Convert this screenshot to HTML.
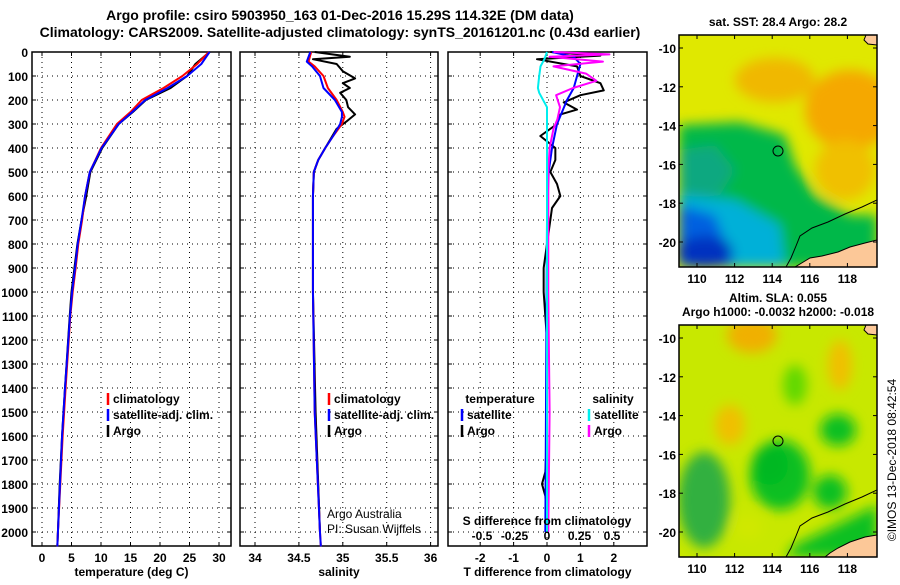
<!DOCTYPE html>
<html><head><meta charset="utf-8">
<style>
body{margin:0;background:#fff;}
svg text{font-family:"Liberation Sans",Arial,sans-serif;}
.b{font-weight:bold;}
</style></head>
<body>
<svg id="fig" width="900" height="580" viewBox="0 0 900 580" xmlns="http://www.w3.org/2000/svg">
<defs>
<filter id="bl" x="-20%" y="-20%" width="140%" height="140%"><feGaussianBlur stdDeviation="6"/></filter>
<clipPath id="c1"><rect x="679" y="35" width="198" height="232"/></clipPath>
<clipPath id="c2"><rect x="679" y="325" width="198" height="232"/></clipPath>
</defs>
<text x="340" y="20" text-anchor="middle" class="b" font-size="14">Argo profile: csiro 5903950_163 01-Dec-2016 15.29S 114.32E (DM data)</text>
<text x="340" y="37" text-anchor="middle" class="b" font-size="14">Climatology: CARS2009. Satellite-adjusted climatology: synTS_20161201.nc (0.43d earlier)</text>

<g id="maps">
<text x="778" y="26" text-anchor="middle" class="b" font-size="12">sat. SST: 28.4 Argo: 28.2</text>
<g clip-path="url(#c1)">
<rect x="679" y="35" width="198" height="232" fill="#e0e800"/>
<g filter="url(#bl)">
<ellipse cx="850" cy="110" rx="45" ry="40" fill="#f5a800"/>
<ellipse cx="775" cy="80" rx="40" ry="22" fill="#f0b800"/>
<ellipse cx="845" cy="170" rx="30" ry="30" fill="#f0c000"/>
<polygon points="679,125 740,122 785,135 795,165 815,195 850,215 877,215 877,267 679,267" fill="#00b848"/>
<polygon points="679,150 715,145 735,170 720,195 679,200" fill="#10a880"/>
<polygon points="679,195 735,200 780,225 785,267 679,267" fill="#00b0d8"/>
<polygon points="679,205 715,215 735,267 679,267" fill="#0060e0"/>
<ellipse cx="705" cy="252" rx="28" ry="16" fill="#0030c0"/>
</g>
<polygon points="877,240 865,243 850,247 838,252 822,256 810,258 800,264 795,267 877,267" fill="#fcc898" stroke="#000" stroke-width="1"/>
<polygon points="866,35 877,35 877,45 868,44 864,40" fill="#fcc898" stroke="#000" stroke-width="1"/>
<polyline points="877,200 862,207 845,214 828,222 812,228 800,236 796,246 791,258 786,267" fill="none" stroke="#000" stroke-width="1"/>
<circle cx="778" cy="151" r="5" fill="none" stroke="#000" stroke-width="1"/>
</g>
<rect x="679" y="35" width="198" height="232" fill="none" stroke="#000" stroke-width="1.5"/>

<text x="778" y="302" text-anchor="middle" class="b" font-size="12">Altim. SLA: 0.055</text>
<text x="778" y="316" text-anchor="middle" class="b" font-size="12">Argo h1000: -0.0032 h2000: -0.018</text>
<g clip-path="url(#c2)">
<rect x="679" y="325" width="198" height="232" fill="#c8e800"/>
<g filter="url(#bl)">
<ellipse cx="752" cy="335" rx="25" ry="18" fill="#f0b000"/>
<ellipse cx="840" cy="365" rx="12" ry="25" fill="#f0c000"/>
<ellipse cx="730" cy="425" rx="15" ry="20" fill="#f0c000"/>
<ellipse cx="795" cy="385" rx="12" ry="20" fill="#60d800"/>
<ellipse cx="704" cy="500" rx="26" ry="48" fill="#30b040"/>
<ellipse cx="780" cy="475" rx="30" ry="35" fill="#10c020"/>
<ellipse cx="770" cy="465" rx="18" ry="20" fill="#00b820"/>
<ellipse cx="838" cy="430" rx="18" ry="16" fill="#10c020"/>
<ellipse cx="830" cy="492" rx="17" ry="17" fill="#10c020"/>
<ellipse cx="748" cy="527" rx="14" ry="12" fill="#d0e800"/>
<polygon points="795,545 877,505 877,557 785,557" fill="#10c020"/>
</g>
<polygon points="877,535 865,537 850,542 838,548 830,553 825,557 877,557" fill="#fcc898" stroke="#000" stroke-width="1"/>
<polygon points="866,325 877,325 877,335 868,334 864,330" fill="#fcc898" stroke="#000" stroke-width="1"/>
<polyline points="877,490 862,497 845,504 828,512 812,518 800,526 796,536 791,548 786,557" fill="none" stroke="#000" stroke-width="1"/>
<circle cx="778" cy="441" r="5" fill="none" stroke="#000" stroke-width="1"/>
</g>
<rect x="679" y="325" width="198" height="232" fill="none" stroke="#000" stroke-width="1.5"/>
<text transform="translate(896,460) rotate(-90)" text-anchor="middle" font-size="12">©IMOS 13-Dec-2018 08:42:54</text>
</g>
<g id="plots"></g>
</svg>
<script>
// ---- data ----
const depthTicks=[0,100,200,300,400,500,600,700,800,900,1000,1100,1200,1300,1400,1500,1600,1700,1800,1900,2000];
const tempTicks=[0,5,10,15,20,25,30];
const salTicks=[34,34.5,35,35.5,36];
const salTickLabels=["34","34.5","35","35.5","36"];
const tdTicks=[-2,-1,0,1,2];
const sdTicks=[-0.5,-0.25,0,0.25,0.5];
const sdTickLabels=["-0.5","-0.25","0","0.25","0.5"];
const latTicks=[-10,-12,-14,-16,-18,-20];
const lonTicks=[110,112,114,116,118];

const tDepth=[0,50,100,150,200,250,300,400,500,600,700,800,900,1000,1100,1400,1600,1800,2000,2060];
const tClim=[28.3,26.3,23.8,20.6,16.9,15.0,12.7,10.0,8.1,7.3,6.8,6.15,5.7,5.2,4.8,4.0,3.5,3.1,2.7,2.6];
const tSat=[28.4,27.0,24.6,21.3,17.5,15.3,13.0,10.1,8.1,7.3,6.7,6.05,5.6,5.1,4.75,3.9,3.4,3.05,2.7,2.6];
const tArgo=[28.4,26.0,24.6,21.8,17.6,15.4,13.0,10.2,8.2,7.5,6.7,6.0,5.5,5.0,4.7,3.9,3.4,3.0,2.7,2.6];

const sDepth=[0,40,60,100,150,200,250,270,300,350,400,450,500,600,1000,1500,2000,2060];
const sClim=[34.64,34.61,34.68,34.78,34.83,34.93,35.0,35.02,34.99,34.89,34.8,34.72,34.67,34.66,34.66,34.68,34.74,34.75];
const sSat=[34.63,34.59,34.65,34.74,34.78,34.91,34.99,34.99,34.97,34.89,34.8,34.72,34.67,34.66,34.66,34.68,34.74,34.75];
const saDepth=[0,20,30,50,80,110,130,150,170,200,230,260,290,320,400,450,500,600,1000,1500,2000];
const sArgo=[34.68,35.08,34.66,34.93,35.0,35.14,35.0,35.08,34.97,35.04,35.06,35.14,35.04,34.93,34.8,34.72,34.67,34.66,34.66,34.69,34.74];

const dtDepth=[0,15,30,60,100,130,160,180,210,240,260,300,350,400,450,500,550,600,650,700,800,900,1000,1100,1200,1600,1750,1800,1850,2000];
const dtArgo=[0.1,1.6,-0.3,0.9,1.0,1.6,1.7,1.0,0.5,0.9,0.4,0.3,-0.2,0.25,0.25,0.1,0.3,0.4,0.15,0.1,0.0,-0.1,-0.1,-0.05,0.0,0.0,-0.05,-0.15,-0.05,0.0];
const dsDepth=[0,20,50,100,150,200,250,300,400,500,700,2000];
const dtSat=[0.15,0.8,1.0,0.9,0.8,0.6,0.45,0.3,0.15,0.05,0.0,-0.05];
const dsaDepth=[0,10,20,40,60,90,120,150,180,230,280,320,400,500,1000,1500,2000];
const dsArgo=[0.05,0.48,0.02,0.43,0.05,0.3,0.38,0.2,0.07,0.1,0.08,0.05,0.02,0.01,0.01,0.02,0.01];
const dsSatDepth=[0,30,60,100,150,170,230,300,500,2000];
const dsSat=[0,-0.02,-0.05,-0.06,-0.07,-0.06,0,0,0,0];

// ---- axes ----
const Y0=52, YS=0.24, TOP=52, BOT=546;
const yD=d=>Y0+d*YS;
const xT=v=>42+v*5.9;
const xS=v=>255+(v-34)*87.8;
const xDT=v=>547+v*33.4;
const xDS=v=>547+v*130;
const NS="http://www.w3.org/2000/svg";
const root=document.getElementById('plots');
function mk(tag,attrs,parent){const e=document.createElementNS(NS,tag);for(const k in attrs)e.setAttribute(k,attrs[k]);(parent||root).appendChild(e);return e;}
function txt(x,y,s,attrs,parent){const t=mk('text',Object.assign({x:x,y:y},attrs),parent);t.textContent=s;return t;}

function panel(name,x0,x1,xt,xticks,xlabels,xtitle){
  const g=mk('g',{});
  
  
  depthTicks.forEach(d=>{
    mk('line',{x1:x0,x2:x1,y1:yD(d),y2:yD(d),stroke:'#000','stroke-width':1,'stroke-dasharray':'1,4'},g);
    mk('line',{x1:x0,x2:x0+4,y1:yD(d),y2:yD(d),stroke:'#000'},g);
    mk('line',{x1:x1-4,x2:x1,y1:yD(d),y2:yD(d),stroke:'#000'},g);
  });
  xticks.forEach((v,i)=>{
    const x=xt(v);
    mk('line',{x1:x,x2:x,y1:TOP,y2:BOT,stroke:'#000','stroke-dasharray':'1,4'},g);
    mk('line',{x1:x,x2:x,y1:BOT,y2:BOT-4,stroke:'#000'},g);
    mk('line',{x1:x,x2:x,y1:TOP,y2:TOP+4,stroke:'#000'},g);
    const l=txt(x,562,xlabels[i],{'text-anchor':'middle','font-size':12,'class':'b'},g);
    
    
  });
  mk('rect',{x:x0,y:TOP,width:x1-x0,height:BOT-TOP,fill:'none',stroke:'#000','stroke-width':1.5},g);
  const t=txt((x0+x1)/2,576,xtitle,{'text-anchor':'middle','font-size':12,'class':'b'},g);
  
  
  return g;
}
function line(g,name,xs,ds,xf,color,w){
  const p=mk('polyline',{points:xs.map((v,i)=>xf(v)+','+yD(ds[i])).join(' '),fill:'none',stroke:color,'stroke-width':w||2,'stroke-linejoin':'round'},g);
  
  
}
function legend(g,x,y,items){
  items.forEach((it,i)=>{
    mk('line',{x1:x,x2:x,y1:y+i*16-10,y2:y+i*16+2,stroke:it[1],'stroke-width':2.5},g);
    const t=txt(x+5,y+i*16,it[0],{'font-size':12,'class':'b'},g);
    
    
  });
}

// depth labels
depthTicks.forEach(d=>{
  const t=txt(28,yD(d)+5,String(d),{'text-anchor':'end','font-size':12,'class':'b'});
  
  
});

const g1=panel('temperature-panel',32,231,xT,tempTicks,tempTicks.map(String),'temperature (deg C)');
line(g1,'temp-argo',tArgo,tDepth,xT,'#000');
line(g1,'temp-climatology',tClim,tDepth,xT,'#f00');
line(g1,'temp-satellite',tSat,tDepth,xT,'#00f');
legend(g1,108,403,[['climatology','#f00'],['satellite-adj. clim.','#00f'],['Argo','#000']]);

const g2=panel('salinity-panel',240,438,xS,salTicks,salTickLabels,'salinity');
line(g2,'sal-argo',sArgo,saDepth,xS,'#000');
line(g2,'sal-climatology',sClim,sDepth,xS,'#f00');
line(g2,'sal-satellite',sSat,sDepth,xS,'#00f');
legend(g2,329,403,[['climatology','#f00'],['satellite-adj. clim.','#00f'],['Argo','#000']]);
txt(327,518,'Argo Australia',{'font-size':12},g2);
txt(327,533,'PI: Susan Wijffels',{'font-size':12},g2);

const g3=panel('difference-panel',448,647,xDT,tdTicks,tdTicks.map(String),'T difference from climatology');
line(g3,'tdiff-argo',dtArgo,dtDepth,xDT,'#000');
line(g3,'tdiff-satellite',dtSat,dsDepth,xDT,'#00f');
line(g3,'sdiff-argo',dsArgo,dsaDepth,xDS,'#f0f');
line(g3,'sdiff-satellite',dsSat,dsSatDepth,xDS,'#0ee');
txt(500,403,'temperature',{'text-anchor':'middle','font-size':12,'class':'b'},g3);
txt(613,403,'salinity',{'text-anchor':'middle','font-size':12,'class':'b'},g3);
legend(g3,462,419,[['satellite','#00f'],['Argo','#000']]);
legend(g3,589,419,[['satellite','#0ee'],['Argo','#f0f']]);
txt(547,525,'S difference from climatology',{'text-anchor':'middle','font-size':12,'class':'b'},g3);
sdTicks.forEach((v,i)=>{txt(xDS(v),540,sdTickLabels[i],{'text-anchor':'middle','font-size':12,'class':'b'},g3);});

// map ticks
const mg=document.getElementById('maps');
[[35,267],[325,557]].forEach(([t,b])=>{
  latTicks.forEach(l=>{
    const y=t+13+(-10-l)*19.4;
    mk('line',{x1:679,x2:683,y1:y,y2:y,stroke:'#000'},mg);
    mk('line',{x1:873,x2:877,y1:y,y2:y,stroke:'#000'},mg);
    const e=txt(676,y+5,String(l),{'text-anchor':'end','font-size':12,'class':'b'},mg);
    
    
  });
  lonTicks.forEach(l=>{
    const x=697+(l-110)*18.8;
    mk('line',{x1:x,x2:x,y1:b,y2:b-4,stroke:'#000'},mg);
    mk('line',{x1:x,x2:x,y1:t,y2:t+4,stroke:'#000'},mg);
    const e=txt(x,b+16,String(l),{'text-anchor':'middle','font-size':12,'class':'b'},mg);
    
    
  });
});
</script>
</body></html>
